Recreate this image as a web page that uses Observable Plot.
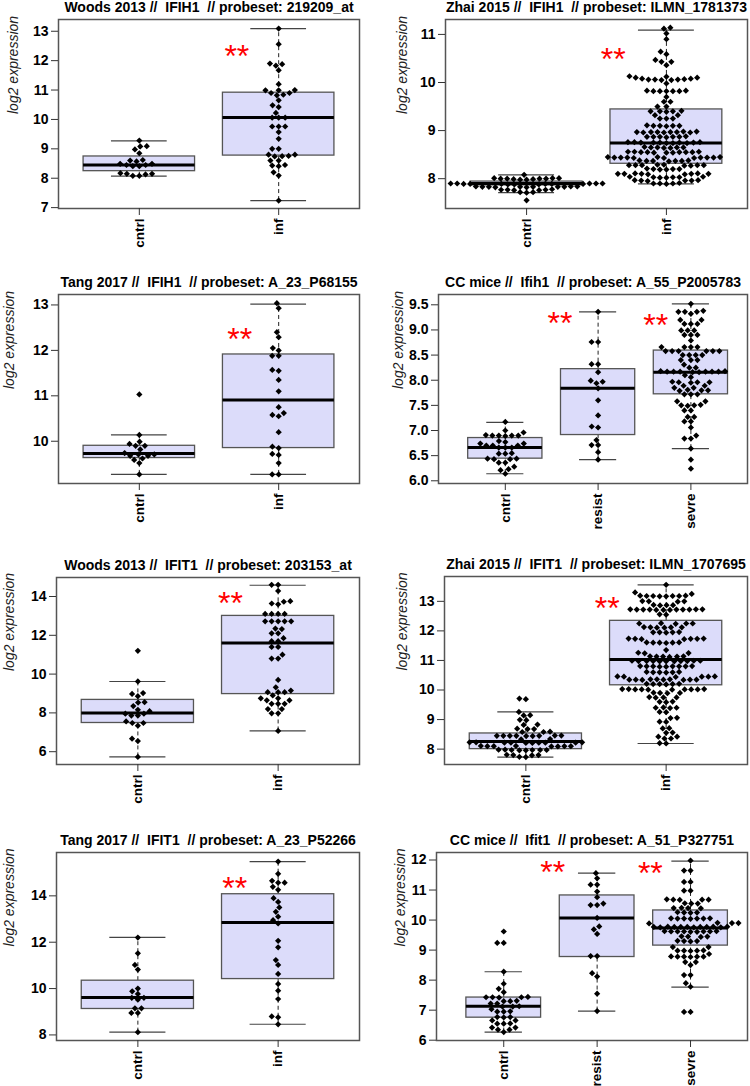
<!DOCTYPE html>
<html>
<head>
<meta charset="utf-8">
<script src="https://cdn.jsdelivr.net/npm/d3@7"></script>
<script src="https://cdn.jsdelivr.net/npm/@observablehq/plot@0.6"></script>
<style>
  html, body { margin: 0; padding: 0; background: #ffffff; }
  #root { position: relative; width: 750px; height: 1086px; background: #ffffff; overflow: hidden; }
  #root svg { position: absolute; }
</style>
</head>
<body>
<div id="root"></div>
<script>
// ---------------- DATA ----------------
const groups2 = ["cntrl", "inf"];
const groups3 = ["cntrl", "resist", "sevre"];
const yLabel = "log2 expression";
const starText = "**";

// Panel 1: Woods 2013 // IFIH1
const p1Title = "Woods 2013 //\u00a0 IFIH1 \u00a0// probeset: 219209_at";
const p1Cntrl = [9.28, 9.09, 9.08, 8.98, 8.85, 8.57, 8.49, 8.45, 8.41, 8.41, 8.45, 8.49, 8.60, 8.62, 8.17, 8.15, 8.13, 8.08, 8.08, 8.15];
const p1Inf = [13.09, 12.56, 11.9, 11.88, 11.83, 11.67, 11.2, 11.0, 10.9, 10.9, 10.82, 10.84, 10.99, 10.99, 10.65, 10.48, 10.42, 10.22, 10.06, 10.06, 10.06, 9.76, 9.76, 9.76, 9.57, 9.34, 9.0, 9.0, 8.8, 8.75, 8.74, 8.76, 8.8, 8.6, 8.6, 8.43, 8.41, 8.45, 8.2, 8.09, 7.24];
const p1Stats = [[8.07, 8.24, 8.45, 8.74, 9.27], [7.24, 8.77, 10.07, 10.91, 13.09]]; // lo, q1, median, q3, hi
const p1Ticks = [7, 8, 9, 10, 11, 12, 13];
const p1Stars = [[2, 12.41, -0.30]]; // group, level, offset

// Panel 2: Zhai 2015 // IFIH1
const p2Title = "Zhai 2015 //\u00a0 IFIH1 \u00a0// probeset: ILMN_1781373";
const p2Cntrl = [8.08,
  8.01, 8.0, 7.99, 8.0, 7.98, 8.01, 7.99, 8.0, 7.98, 8.0, 8.01,
  7.89, 7.9, 7.89, 7.88, 7.9, 7.89, 7.89, 7.9, 7.88, 7.89, 7.9, 7.89, 7.88, 7.9,
  7.83, 7.84, 7.83, 7.82, 7.83, 7.84, 7.83, 7.82, 7.83, 7.84, 7.83,
  7.77, 7.76, 7.77, 7.78, 7.77, 7.76,
  7.72, 7.71, 7.72,
  7.55];
const p2Inf = [11.14, 11.12, 11.02, 10.9, 10.64, 10.59, 10.47, 10.43, 10.43, 10.36, 10.13,
  10.1, 10.08, 10.06, 10.06, 10.05, 10.05, 10.06, 10.07, 10.08, 10.1, 10.12,
  9.98,
  9.83, 9.82, 9.82, 9.82, 9.82, 9.82, 9.83,
  9.7, 9.6, 9.6, 9.5, 9.5,
  9.4, 9.41, 9.39, 9.4, 9.4,
  9.32, 9.32,
  9.25, 9.25, 9.25,
  9.1, 9.1, 9.09, 9.1, 9.11, 9.1,
  8.97, 8.96, 8.97, 8.98, 8.97, 8.96, 8.97, 8.98, 8.97, 8.96,
  8.87, 8.87, 8.86, 8.87, 8.88, 8.87, 8.87,
  8.75, 8.74, 8.76, 8.75, 8.75, 8.74, 8.76, 8.75, 8.75, 8.74, 8.76,
  8.65, 8.65, 8.64, 8.66, 8.65, 8.65, 8.64,
  8.55, 8.54, 8.56, 8.55, 8.55, 8.54, 8.56, 8.55, 8.55, 8.54, 8.56,
  8.44, 8.45, 8.43, 8.44, 8.44, 8.45, 8.43, 8.44, 8.44, 8.45, 8.43, 8.44,
  8.37, 8.38, 8.37, 8.36, 8.37, 8.38, 8.37,
  8.28, 8.27, 8.29, 8.28, 8.28, 8.27, 8.29, 8.28, 8.28,
  8.2, 8.19, 8.21, 8.2, 8.2, 8.19,
  8.1, 8.11, 8.09, 8.1, 8.1, 8.11, 8.09, 8.1, 8.1,
  8.03, 8.02, 8.04, 8.03, 8.03, 8.02, 8.04,
  7.96, 7.97, 7.95, 7.96, 7.96, 7.97,
  7.9, 7.89, 7.9, 7.91, 7.9];
const p2Stats = [[7.71, 7.86, 7.90, 7.94, 8.08], [7.89, 8.31, 8.74, 9.44, 11.09]];
const p2Ticks = [8, 9, 10, 11];
const p2Stars = [[2, 10.64, -0.38]];

// Panel 3: Tang 2017 // IFIH1
const p3Title = "Tang 2017 //\u00a0 IFIH1 \u00a0// probeset: A_23_P68155";
const p3Cntrl = [11.03, 10.14, 9.94, 9.9, 9.9, 9.99, 9.82, 9.68, 9.71, 9.71, 9.68, 9.74, 9.62, 9.59, 9.52, 9.27];
const p3Inf = [13.04, 12.93, 12.4, 12.29, 12.0, 12.05, 11.88, 11.88, 11.55, 11.57, 11.35, 11.1, 10.75, 10.62, 10.55, 10.58, 10.2, 9.85, 9.88, 9.7, 9.72, 9.52, 9.27, 9.27];
const p3Stats = [[9.27, 9.63, 9.73, 9.90, 10.14], [9.27, 9.85, 10.91, 11.91, 13.02]];
const p3Ticks = [10, 11, 12, 13];
const p3Stars = [[2, 12.40, -0.28]];

// Panel 4: CC mice // Ifih1
const p4Title = "CC mice //\u00a0 Ifih1 \u00a0// probeset: A_55_P2005783";
const p4Cntrl = [7.17, 6.96, 7.0, 6.9, 6.9, 6.9, 6.9, 6.89, 6.91, 6.79, 6.74, 6.77, 6.74, 6.7, 6.7, 6.7, 6.66, 6.66, 6.66, 6.54, 6.55, 6.54, 6.44, 6.43, 6.44, 6.43, 6.36, 6.36, 6.28, 6.23, 6.21, 6.14];
const p4Resist = [9.36, 8.76, 8.76, 8.32, 8.32, 8.16, 7.99, 7.97, 7.94, 7.84, 7.6, 7.3, 7.06, 7.08, 6.81, 6.71, 6.71, 6.57, 6.42];
const p4Sevre = [9.52, 9.36, 9.36, 9.32, 9.36, 9.38, 9.2, 9.2, 9.12, 9.12, 9.12, 8.99, 8.99, 8.99, 8.9, 8.9, 8.9, 8.79,
  8.66, 8.66, 8.66, 8.66, 8.58, 8.58, 8.58, 8.58, 8.58, 8.58, 8.5, 8.5, 8.5, 8.5, 8.4, 8.4, 8.4, 8.31, 8.25, 8.25,
  8.17, 8.17, 8.18, 8.16, 8.17, 8.17, 8.18, 8.16, 8.17, 8.17, 8.1, 8.06,
  7.96, 7.96, 7.97, 7.95, 7.96, 7.89, 7.89, 7.85, 7.85, 7.8, 7.8, 7.81, 7.79, 7.72, 7.72, 7.72,
  7.58, 7.58, 7.5, 7.5, 7.51, 7.49, 7.4, 7.4, 7.27, 7.27, 7.18, 7.18, 7.06, 6.9, 6.84, 6.84, 6.64, 6.42, 6.24];
const p4Stats = [[6.14, 6.44, 6.66, 6.85, 7.16], [6.42, 6.91, 7.84, 8.22, 9.36], [6.64, 7.72, 8.16, 8.59, 9.52]];
const p4Ticks = [6.0, 6.5, 7.0, 7.5, 8.0, 8.5, 9.0, 9.5];
const p4Stars = [[2, 9.29, -0.41], [3, 9.25, -0.38]];

// Panel 5: Woods 2013 // IFIT1
const p5Title = "Woods 2013 //\u00a0 IFIT1 \u00a0// probeset: 203153_at";
const p5Cntrl = [11.2, 9.62, 9.02, 8.98, 8.86, 8.55, 8.53, 8.35, 8.16, 8.09, 7.96, 7.96, 7.86, 7.86, 7.56, 7.48, 7.48, 7.34, 6.67, 6.55, 5.73];
const p5Inf = [14.6, 14.6, 14.29, 13.73, 13.64, 13.6, 13.76, 13.1, 13.1, 13.1, 13.1, 12.72, 12.72, 12.72, 12.72, 12.72,
  12.32, 12.35, 12.1, 12.1, 11.85, 11.7, 11.7, 11.4, 11.4, 11.0, 10.8, 10.8, 9.7, 9.15, 9.07, 9.07, 9.07, 9.32,
  8.9, 8.75, 8.75, 8.65, 8.65, 8.47, 8.47, 8.47, 8.2, 8.2, 7.98, 7.98, 7.07];
const p5Stats = [[5.73, 7.48, 7.99, 8.67, 9.62], [7.07, 8.97, 11.60, 13.00, 14.58]];
const p5Ticks = [6, 8, 10, 12, 14];
const p5Stars = [[2, 14.03, -0.34]];

// Panel 6: Zhai 2015 // IFIT1
const p6Title = "Zhai 2015 //\u00a0 IFIT1 \u00a0// probeset: ILMN_1707695";
const p6Cntrl = [9.69, 9.71, 9.26, 9.14, 9.15, 8.98, 8.99, 8.82, 8.83, 8.68, 8.68, 8.69, 8.58, 8.59, 8.58,
  8.45, 8.46, 8.44, 8.45, 8.45, 8.46, 8.44, 8.45, 8.45,
  8.33, 8.34,
  8.22, 8.23, 8.21, 8.22, 8.22, 8.23, 8.21, 8.22, 8.22, 8.23,
  8.1, 8.09, 8.11, 8.1, 8.1, 8.09, 8.11, 8.1,
  7.97, 7.98, 7.96, 7.97, 7.97, 7.98, 7.96, 7.97,
  7.8, 7.81, 7.79, 7.8,
  7.73, 7.74];
const p6Inf = [13.56,
  13.3, 13.25,
  13.18, 13.17, 13.19, 13.18, 13.18, 13.17, 13.19, 13.18,
  13.0, 13.01, 12.99, 13.0,
  12.87, 12.88, 12.86, 12.87,
  12.72, 12.73, 12.71, 12.72, 12.72, 12.73, 12.71, 12.72, 12.72, 12.73, 12.71, 12.72,
  12.55, 12.56,
  12.25, 12.26, 12.24, 12.25, 12.25,
  12.12, 12.11, 12.13, 12.12, 12.12, 12.11,
  11.95, 11.96, 11.94, 11.95, 11.95,
  11.73, 11.74, 11.72, 11.73, 11.73, 11.74, 11.72,
  11.6, 11.61, 11.59, 11.6, 11.6, 11.61,
  11.35,
  11.25, 11.26, 11.24,
  11.13, 11.14, 11.12, 11.13, 11.13, 11.14,
  10.98, 10.99, 10.97, 10.98, 10.98, 10.99, 10.97, 10.98, 10.98, 10.99, 10.97,
  10.8, 10.81, 10.79, 10.8, 10.8, 10.81, 10.79, 10.8, 10.8,
  10.6, 10.61, 10.59, 10.6, 10.6, 10.61,
  10.45, 10.46, 10.44, 10.45, 10.45, 10.46,
  10.35, 10.36, 10.34, 10.35, 10.35, 10.36, 10.34, 10.35, 10.35, 10.36,
  10.2, 10.21, 10.19, 10.2, 10.2, 10.21,
  10.02, 10.03, 10.01, 10.02, 10.02, 10.03, 10.01, 10.02, 10.02, 10.03,
  9.9, 9.91, 9.89, 9.9,
  9.75, 9.76, 9.74, 9.75,
  9.6, 9.61, 9.59,
  9.4, 9.41, 9.39, 9.4,
  9.25, 9.26,
  9.05, 9.06,
  8.92, 8.93,
  8.7, 8.71,
  8.55, 8.56,
  8.42, 8.36, 8.36, 8.42,
  8.2, 8.19];
const p6Stats = [[7.73, 8.00, 8.26, 8.53, 9.26], [8.19, 10.16, 11.03, 12.34, 13.56]];
const p6Ticks = [8, 9, 10, 11, 12, 13];
const p6Stars = [[2, 13.03, -0.42]];

// Panel 7: Tang 2017 // IFIT1
const p7Title = "Tang 2017 //\u00a0 IFIT1 \u00a0// probeset: A_23_P52266";
const p7Cntrl = [12.2, 11.52, 11.02, 10.82, 10.0, 9.88, 9.77, 9.6, 9.6, 9.52, 9.15, 9.15, 8.95, 8.95, 8.12];
const p7Inf = [15.48, 14.95, 14.65, 14.57, 14.57, 14.39, 14.26, 13.9, 13.74, 13.5, 13.31, 13.1, 12.95, 12.81, 12.06, 11.78, 11.23, 11.02, 10.63, 10.2, 9.91, 9.55, 8.8, 8.76, 8.46];
const p7Stats = [[8.12, 9.12, 9.62, 10.34, 12.21], [8.46, 10.41, 12.85, 14.07, 15.48]];
const p7Ticks = [8, 10, 12, 14];
const p7Stars = [[2, 14.65, -0.31]];

// Panel 8: CC mice // Ifit1
const p8Title = "CC mice //\u00a0 Ifit1 \u00a0// probeset: A_51_P327751";
const p8Cntrl = [9.62, 9.24, 9.24, 8.28, 7.88, 7.71, 7.6, 7.43, 7.43, 7.42, 7.44, 7.43, 7.3, 7.3, 7.31, 7.22, 7.22,
  7.12, 7.12, 7.13, 7.03, 6.95, 6.95, 6.96, 6.77, 6.77, 6.76, 6.66, 6.66, 6.55, 6.55, 6.56, 6.42, 6.42, 6.35, 6.35, 6.27];
const p8Resist = [11.56, 11.39, 11.18, 11.18, 10.95, 10.76, 10.55, 10.5, 10.5, 10.07, 9.79, 9.69, 9.54, 8.8, 8.8, 8.23, 8.12, 7.55, 6.97];
const p8Sevre = [11.98, 11.65, 11.65, 11.27, 11.27, 10.98, 10.98,
  10.68, 10.68, 10.69, 10.67, 10.68, 10.55, 10.55, 10.56, 10.4, 10.4, 10.41, 10.39, 10.25, 10.25, 10.26, 10.24,
  10.05, 10.05, 10.06, 10.04, 10.05, 10.05, 10.06, 9.9, 9.9, 9.91, 9.89,
  9.77, 9.77, 9.78, 9.76, 9.77, 9.77, 9.78, 9.76, 9.77, 9.77, 9.78, 9.76,
  9.62, 9.62, 9.63, 9.61, 9.62, 9.62, 9.63, 9.61, 9.62,
  9.45, 9.45, 9.46, 9.44, 9.3, 9.3, 9.31, 9.29, 9.1, 9.1,
  8.98, 8.98, 8.99, 8.97, 8.98, 8.87, 8.78, 8.78, 8.79, 8.77, 8.78, 8.78, 8.6, 8.6, 8.5, 8.17, 8.17, 7.9, 7.78, 6.94, 6.94];
const p8Stats = [[6.27, 6.75, 7.13, 7.42, 8.28], [6.97, 8.77, 10.07, 10.82, 11.56], [7.77, 9.15, 9.74, 10.32, 11.96]];
const p8Ticks = [6, 7, 8, 9, 10, 11, 12];
const p8Stars = [[2, 11.85, -0.475], [3, 11.81, -0.43]];

// ---------------- LAYOUT / STYLE ----------------
const boxFill = "#dcdcfa";
const boxStroke = "#555555";
const FONT = "'Liberation Sans', Arial, Helvetica, sans-serif";

// Beeswarm ("swarm") initializer working in screen space through Plot's scales.
// gx / gy: horizontal / vertical clearance between dot centres (elliptical).
function swarm(gx, gy) {
  return function (data, facets, channels, scales) {
    const G = channels.x.value, V = channels.y.value;
    const n = G.length;
    const X = new Float64Array(n), Y = new Float64Array(n), off = new Float64Array(n);
    for (let i = 0; i < n; i++) { X[i] = scales.x(G[i]); Y[i] = scales.y(V[i]); }
    const F = facets || [d3.range(n)];
    for (const I of F) {
      const byGroup = d3.group(Array.from(I), i => G[i]);
      for (const [, idx] of byGroup) {
        const order = idx.slice().sort((a, b) => Y[b] - Y[a]); // ascending values
        const placed = [];
        for (const i of order) {
          const cands = [0];
          for (const j of placed) {
            const t = (Y[i] - Y[j]) / gy;
            if (Math.abs(t) < 1) {
              const dx = gx * Math.sqrt(1 - t * t);
              cands.push(off[j] + dx, off[j] - dx);
            }
          }
          cands.sort((a, b) => Math.abs(a) - Math.abs(b) || a - b);
          let best = 0;
          for (const c of cands) {
            let ok = true;
            for (const j of placed) {
              const u = (c - off[j]) / gx, t = (Y[i] - Y[j]) / gy;
              if (u * u + t * t < 1 - 1e-6) { ok = false; break; }
            }
            if (ok) { best = c; break; }
          }
          off[i] = best;
          placed.push(i);
        }
        for (const i of idx) X[i] += off[i];
      }
    }
    return {data, facets, channels: {x: {value: X}, y: {value: Y}}};
  };
}

function panel(cfg) {
  const {left, top, width, height, mL, mR, mT, mB, groups, values, stats, yDomain, xDomain, yTicks, yFmt, title, stars, labelX} = cfg;
  const pts = [];
  values.forEach((arr, gi) => arr.forEach(v => pts.push({g: gi + 1, v})));
  const box = stats.map((s, gi) => ({g: gi + 1, lo: s[0], q1: s[1], med: s[2], q3: s[3], hi: s[4]}));
  const gIdx = groups.map((_, i) => i + 1);
  const svg = Plot.plot({
    width, height,
    marginLeft: mL, marginRight: mR, marginTop: mT, marginBottom: mB,
    style: {fontFamily: FONT, background: "white", overflow: "visible", color: "black"},
    x: {type: "linear", domain: xDomain},
    y: {domain: yDomain},
    marks: [
      Plot.ruleX(box, {x: "g", y1: "q3", y2: "hi", stroke: "#222", strokeWidth: 1, strokeDasharray: "4,3"}),
      Plot.ruleX(box, {x: "g", y1: "lo", y2: "q1", stroke: "#222", strokeWidth: 1, strokeDasharray: "4,3"}),
      Plot.rect(box, {x1: d => d.g - 0.4, x2: d => d.g + 0.4, y1: "q1", y2: "q3", fill: boxFill, stroke: boxStroke, strokeWidth: 1.3}),
      Plot.ruleY(box, {y: "med", x1: d => d.g - 0.4, x2: d => d.g + 0.4, stroke: "#000", strokeWidth: 3}),
      Plot.ruleY(box, {y: "hi", x1: d => d.g - 0.2, x2: d => d.g + 0.2, stroke: "#444", strokeWidth: 1.2}),
      Plot.ruleY(box, {y: "lo", x1: d => d.g - 0.2, x2: d => d.g + 0.2, stroke: "#444", strokeWidth: 1.2}),
      Plot.dot(pts, {x: "g", y: "v", r: 2.8, fill: "#000", stroke: "none", symbol: "diamond2", initializer: swarm(6.5, 5.2)}),
      Plot.text(stars, {x: d => d[0] + d[2], y: d => d[1], text: () => starText, fill: "#ff0000", fontSize: 32, dy: 8, fontFamily: FONT}),
      Plot.frame({stroke: "#555", strokeWidth: 1.5}),
      Plot.axisY(yTicks, {tickFormat: yFmt, fontWeight: "bold", fontSize: 14, tickSize: 7, tickPadding: 3, label: null, stroke: "#333", fill: "#000"}),
      Plot.axisX(gIdx, {tickFormat: i => groups[i - 1], tickRotate: -90, fontWeight: "bold", fontSize: 13.5, tickSize: 7, tickPadding: 3, label: null, stroke: "#333", fill: "#000"}),
      Plot.text([title], {frameAnchor: "top", dy: -7.5, lineAnchor: "bottom", fontWeight: "bold", fontSize: 14, fill: "#000"}),
      Plot.text([yLabel], {frameAnchor: "left", dx: labelX - mL, rotate: -90, fontStyle: "italic", fontSize: 14, fill: "#222"})
    ]
  });
  svg.style.left = left + "px";
  svg.style.top = top + "px";
  document.getElementById("root").appendChild(svg);
}

const fmtInt = d3.format("d");
const fmt1 = d3.format(".1f");
const x2 = [0.42, 2.58];
const x3 = [0.28, 3.61];

panel({left: 0, top: 0, width: 375, height: 270, mL: 58, mR: 16, mT: 19, mB: 62, groups: groups2, values: [p1Cntrl, p1Inf], stats: p1Stats, yDomain: [6.97, 13.4], xDomain: x2, yTicks: p1Ticks, yFmt: fmtInt, title: p1Title, stars: p1Stars, labelX: 13});
panel({left: 375, top: 0, width: 375, height: 270, mL: 70, mR: 3, mT: 19, mB: 62, groups: groups2, values: [p2Cntrl, p2Inf], stats: p2Stats, yDomain: [7.38, 11.31], xDomain: x2, yTicks: p2Ticks, yFmt: fmtInt, title: p2Title, stars: p2Stars, labelX: 27});
panel({left: 0, top: 270, width: 375, height: 270, mL: 58, mR: 16, mT: 24, mB: 57, groups: groups2, values: [p3Cntrl, p3Inf], stats: p3Stats, yDomain: [9.07, 13.23], xDomain: x2, yTicks: p3Ticks, yFmt: fmtInt, title: p3Title, stars: p3Stars, labelX: 9});
panel({left: 375, top: 270, width: 375, height: 270, mL: 63, mR: 3, mT: 24, mB: 57, groups: groups3, values: [p4Cntrl, p4Resist, p4Sevre], stats: p4Stats, yDomain: [5.946, 9.705], xDomain: x3, yTicks: p4Ticks, yFmt: fmt1, title: p4Title, stars: p4Stars, labelX: 23});
panel({left: 0, top: 540, width: 375, height: 270, mL: 56, mR: 16, mT: 37, mB: 46, groups: groups2, values: [p5Cntrl, p5Inf], stats: p5Stats, yDomain: [5.34, 14.98], xDomain: x2, yTicks: p5Ticks, yFmt: fmtInt, title: p5Title, stars: p5Stars, labelX: 9});
panel({left: 375, top: 540, width: 375, height: 270, mL: 69, mR: 3, mT: 36, mB: 46, groups: groups2, values: [p6Cntrl, p6Inf], stats: p6Stats, yDomain: [7.48, 13.84], xDomain: x2, yTicks: p6Ticks, yFmt: fmtInt, title: p6Title, stars: p6Stars, labelX: 27});
panel({left: 0, top: 810, width: 375, height: 276, mL: 56, mR: 16, mT: 42, mB: 46, groups: groups2, values: [p7Cntrl, p7Inf], stats: p7Stats, yDomain: [7.76, 15.87], xDomain: x2, yTicks: p7Ticks, yFmt: fmtInt, title: p7Title, stars: p7Stars, labelX: 9});
panel({left: 375, top: 810, width: 375, height: 276, mL: 61, mR: 3, mT: 42, mB: 46, groups: groups3, values: [p8Cntrl, p8Resist, p8Sevre], stats: p8Stats, yDomain: [5.99, 12.25], xDomain: x3, yTicks: p8Ticks, yFmt: fmtInt, title: p8Title, stars: p8Stars, labelX: 25});
</script>
</body>
</html>
